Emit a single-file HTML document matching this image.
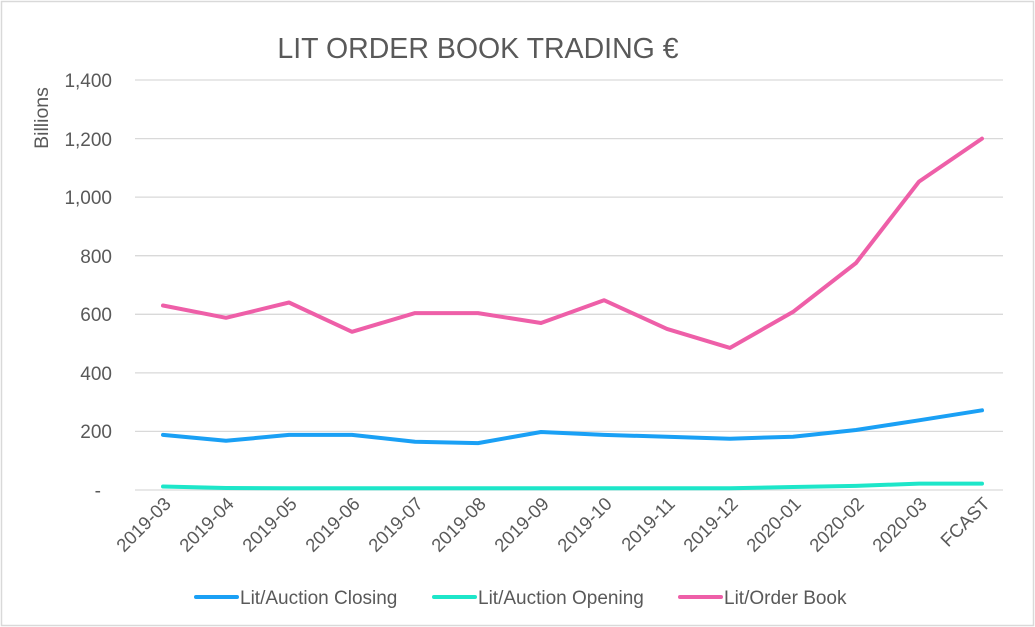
<!DOCTYPE html>
<html><head><meta charset="utf-8"><style>
html,body{margin:0;padding:0;background:#fff;}
svg{display:block;font-family:"Liberation Sans",Arial,sans-serif;}
</style></head><body>
<svg width="1035" height="627" viewBox="0 0 1035 627" xmlns="http://www.w3.org/2000/svg">
<rect x="1.5" y="1.5" width="1032" height="624" fill="#fff" stroke="#d9d9d9" stroke-width="1.5"/>
<text x="478" y="58" font-size="28.5" fill="#595959" text-anchor="middle">LIT ORDER BOOK TRADING €</text>
<text transform="translate(48,118) rotate(-90)" font-size="19.5" fill="#595959" text-anchor="middle">Billions</text>
<g stroke="#d9d9d9" stroke-width="1.3">
<line x1="135" x2="1003" y1="80" y2="80"/><line x1="135" x2="1003" y1="138.6" y2="138.6"/>
<line x1="135" x2="1003" y1="197.1" y2="197.1"/><line x1="135" x2="1003" y1="255.7" y2="255.7"/>
<line x1="135" x2="1003" y1="314.3" y2="314.3"/><line x1="135" x2="1003" y1="372.9" y2="372.9"/>
<line x1="135" x2="1003" y1="431.4" y2="431.4"/><line x1="135" x2="1003" y1="490" y2="490"/>
</g>
<g font-size="19" fill="#595959" text-anchor="end">
<text x="112" y="87">1,400</text><text x="112" y="146">1,200</text><text x="112" y="204">1,000</text>
<text x="112" y="263">800</text><text x="112" y="321">600</text><text x="112" y="380">400</text>
<text x="112" y="438">200</text><text x="101" y="497">-</text>
</g>
<g font-size="18.5" fill="#595959" text-anchor="end">
<text transform="translate(172,505) rotate(-45)">2019-03</text>
<text transform="translate(235,505) rotate(-45)">2019-04</text>
<text transform="translate(298,505) rotate(-45)">2019-05</text>
<text transform="translate(361,505) rotate(-45)">2019-06</text>
<text transform="translate(424,505) rotate(-45)">2019-07</text>
<text transform="translate(487,505) rotate(-45)">2019-08</text>
<text transform="translate(550,505) rotate(-45)">2019-09</text>
<text transform="translate(613,505) rotate(-45)">2019-10</text>
<text transform="translate(676,505) rotate(-45)">2019-11</text>
<text transform="translate(739,505) rotate(-45)">2019-12</text>
<text transform="translate(802,505) rotate(-45)">2020-01</text>
<text transform="translate(865,505) rotate(-45)">2020-02</text>
<text transform="translate(928,505) rotate(-45)">2020-03</text>
<text transform="translate(991,505) rotate(-45)">FCAST</text>
</g>
<g fill="none" stroke-width="4" stroke-linejoin="round" stroke-linecap="round">
<polyline stroke="#1de6c9" points="163,486.5 226,488 289,488.2 352,488.2 415,488.2 478,488.2 541,488.2 604,488.2 667,488.2 730,488.2 793,487 856,485.9 919,483.6 982,483.6"/>
<polyline stroke="#1aa0f5" points="163,434.9 226,440.8 289,434.9 352,434.9 415,441.7 478,443.1 541,432 604,434.9 667,436.7 730,438.7 793,436.7 856,430 919,420.3 982,410.3"/>
<polyline stroke="#ee5fa8" points="163,305.5 226,317.8 289,302.5 352,331.8 415,313.1 478,313.1 541,323 604,300.2 667,328.9 730,347.9 793,311.9 856,263 919,181.6 982,138.6"/>
</g>
<g font-size="19" fill="#595959">
<line x1="196" x2="237" y1="597" y2="597" stroke="#1aa0f5" stroke-width="4" stroke-linecap="round"/>
<text x="240" y="604">Lit/Auction Closing</text>
<line x1="434" x2="475" y1="597" y2="597" stroke="#1de6c9" stroke-width="4" stroke-linecap="round"/>
<text x="478" y="604">Lit/Auction Opening</text>
<line x1="680" x2="721" y1="597" y2="597" stroke="#ee5fa8" stroke-width="4" stroke-linecap="round"/>
<text x="724" y="604">Lit/Order Book</text>
</g>
</svg>
</body></html>
